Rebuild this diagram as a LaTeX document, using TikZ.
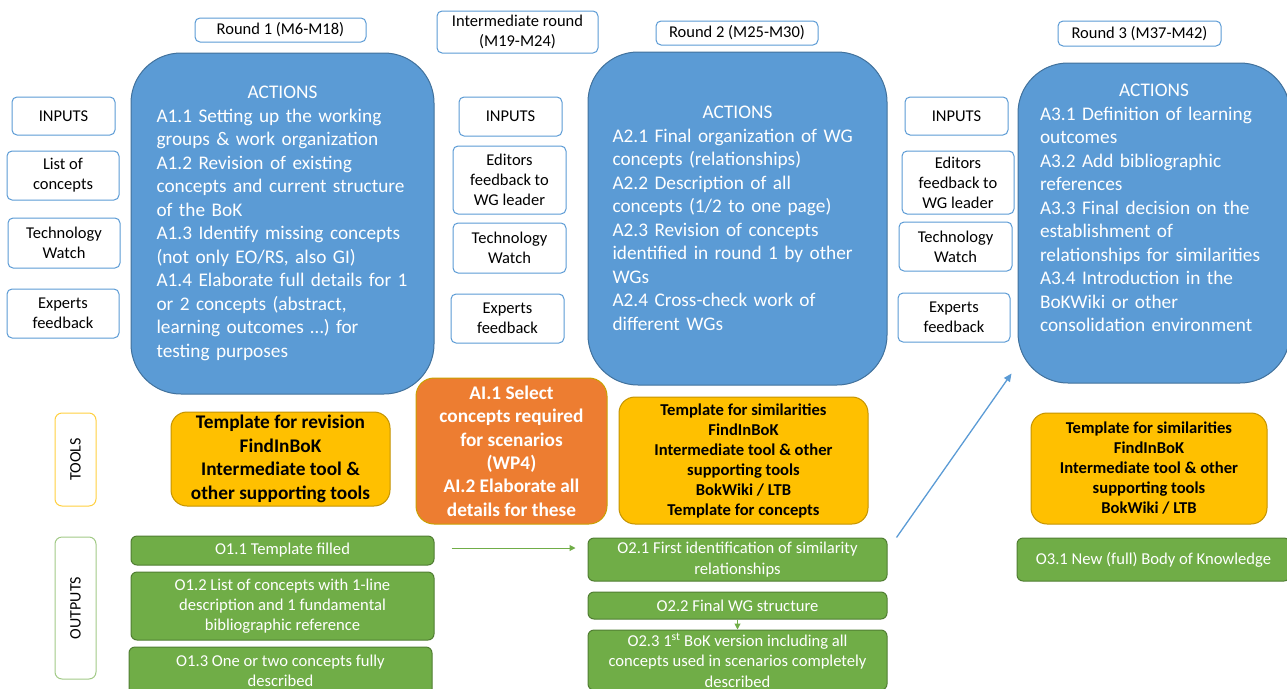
\documentclass[tikz,border=0pt]{standalone}
\usepackage{fontspec}
\setmainfont{Carlito}
\usetikzlibrary{arrows.meta}

\definecolor{actblue}{HTML}{5B9BD5}
\definecolor{actedge}{HTML}{41719C}
\definecolor{toolyellow}{HTML}{FFC000}
\definecolor{tooledge}{HTML}{C49300}
\definecolor{aiorange}{HTML}{ED7D31}
\definecolor{aiedge}{HTML}{C9A000}
\definecolor{outgreen}{HTML}{70AD47}
\definecolor{outedge}{HTML}{507E32}

\tikzset{
  frame/.style={draw=actblue, line width=1pt, fill=white, rounded corners=5pt,
    inner sep=0pt, align=center, font=\fontsize{16.5}{20}\selectfont},
  actions/.style={draw=actedge, line width=1pt, fill=actblue, text=white,
    rounded corners=50pt, inner ysep=0pt, align=left,
    font=\fontsize{19.3}{23.5}\selectfont},
  tools/.style={draw=tooledge, line width=1pt, fill=toolyellow, rounded corners=16pt,
    inner sep=0pt, align=center, font=\bfseries\fontsize{16.6}{20}\selectfont},
  outs/.style={draw=outedge, line width=1pt, fill=outgreen, text=white,
    rounded corners=6pt, inner sep=0pt, align=center,
    font=\fontsize{16.6}{20.3}\selectfont},
  side/.style={line width=1pt, rounded corners=7pt, fill=white, inner sep=0pt,
    rotate=90, font=\fontsize{16}{19}\selectfont},
  grarrow/.style={draw=outgreen, line width=1pt, -{Triangle[length=6pt,width=6pt]}},
  bluearrow/.style={draw=actblue, line width=1.3pt, -{Triangle[length=8pt,width=7pt]}}
}

\begin{document}
\begin{tikzpicture}[x=1pt,y=-1pt]
\useasboundingbox (0,0) rectangle (1287,688);

% round headers
\node [frame, minimum width=171pt, minimum height=24pt] (head1) at (280.5,30) {Round 1 (M6-M18)};
\node [frame, minimum width=161pt, minimum height=42pt] (headI) at (517.5,32) {Intermediate round\\(M19-M24)};
\node [frame, minimum width=162pt, minimum height=24pt] (head2) at (737,33) {Round 2 (M25-M30)};
\node [frame, minimum width=163pt, minimum height=25pt] (head3) at (1139.5,33.5) {Round 3 (M37-M42)};

% inputs, round 1
\node [frame, minimum width=103pt, minimum height=38pt] (in1) at (63.5,116) {INPUTS};
\node [frame, minimum width=112pt, minimum height=49pt] (list1) at (63,175.5) {List of\\concepts};
\node [frame, minimum width=112pt, minimum height=50pt] (tech1) at (64,243) {Technology\\Watch};
\node [frame, minimum width=112pt, minimum height=49pt] (exp1) at (63,313.5) {Experts\\feedback};

% inputs, intermediate round
\node [frame, minimum width=103pt, minimum height=39pt] (inI) at (510.5,116.5) {INPUTS};
\node [frame, minimum width=113pt, minimum height=68pt] (editI) at (509.5,180) {Editors\\feedback to\\WG leader};
\node [frame, minimum width=113pt, minimum height=50pt] (techI) at (509.5,248) {Technology\\Watch};
\node [frame, minimum width=113pt, minimum height=49pt] (expI) at (507.5,318.5) {Experts\\feedback};

% inputs, round 3
\node [frame, minimum width=103pt, minimum height=38pt] (in3) at (956.5,116) {INPUTS};
\node [frame, minimum width=112pt, minimum height=63pt] (edit3) at (958,182.5) {Editors\\feedback to\\WG leader};
\node [frame, minimum width=113pt, minimum height=49pt] (tech3) at (955.5,246.5) {Technology\\Watch};
\node [frame, minimum width=112pt, minimum height=49pt] (exp3) at (954,317.5) {Experts\\feedback};

% actions
\node [actions, text width=252pt, inner xsep=25.5pt, minimum height=341pt] (act1) at (282.5,223.5) {%
\makebox[\hsize]{ACTIONS}\\
A1.1 Setting up the working\\
groups \& work organization\\
A1.2 Revision of existing\\
concepts and current structure\\
of the BoK\\
A1.3 Identify missing concepts\\
(not only EO/RS, also GI)\\
A1.4 Elaborate full details for 1\\
or 2 concepts (abstract,\\
learning outcomes \dots) for\\
testing purposes};

\node [actions, text width=250pt, inner xsep=24.5pt, minimum height=333pt] (act2) at (737.5,218.5) {%
\makebox[\hsize]{ACTIONS}\\
A2.1 Final organization of WG\\
concepts (relationships)\\
A2.2 Description of all\\
concepts (1/2 to one page)\\
A2.3 Revision of concepts\\
identified in round 1 by other\\
WGs\\
A2.4 Cross-check work of\\
different WGs};

\node [actions, text width=228pt, inner xsep=22pt, minimum height=320pt] (act3) at (1154,223) {%
\makebox[\hsize]{ACTIONS}\\
A3.1 Definition of learning\\
outcomes\\
A3.2 Add bibliographic\\
references\\
A3.3 Final decision on the\\
establishment of\\
relationships for similarities\\
A3.4 Introduction in the\\
BoKWiki or other\\
consolidation environment\\[6.5pt]\mbox{}};

% row labels
\node [side, draw=toolyellow!75, minimum width=93pt, minimum height=41pt] (toolslab) at (75.5,459.5) {TOOLS};
\node [side, draw=outgreen!65, minimum width=142pt, minimum height=41pt] (outslab) at (75.5,608) {OUTPUTS};

% tools
\node [tools, font=\bfseries\fontsize{19.3}{23.5}\selectfont, minimum width=219pt, minimum height=94pt] (tool1) at (280.5,459) {Template for revision\\FindInBoK\\Intermediate tool \&\\other supporting tools};
\node [tools, draw=aiedge, fill=aiorange, text=white, rounded corners=18pt,
  font=\bfseries\fontsize{19.3}{23.4}\selectfont, minimum width=191pt, minimum height=146pt] (ai) at (511.5,451) {AI.1 Select\\concepts required\\for scenarios\\(WP4)\\AI.2 Elaborate all\\details for these};
\node [tools, minimum width=249pt, minimum height=127pt] (tool2) at (743.5,460.5) {Template for similarities\\FindInBoK\\Intermediate tool \& other\\supporting tools\\BokWiki / LTB\\Template for concepts};
\node [tools, minimum width=236pt, minimum height=111pt] (tool3) at (1149,468.5) {Template for similarities\\FindInBoK\\Intermediate tool \& other\\supporting tools\\BokWiki / LTB};

% outputs
\node [outs, minimum width=303pt, minimum height=29pt] (o11) at (282.5,550.5) {O1.1 Template filled};
\node [outs, minimum width=303pt, minimum height=68pt] (o12) at (282.5,606) {O1.2 List of concepts with 1-line\\description and 1 fundamental\\bibliographic reference};
\node [outs, minimum width=303pt, minimum height=48pt] (o13) at (280.5,671) {O1.3 One or two concepts fully\\described};
\node [outs, minimum width=299pt, minimum height=43pt] (o21) at (737.5,559.5) {O2.1 First identification of similarity\\relationships};
\node [outs, minimum width=299pt, minimum height=27pt] (o22) at (737.5,605.5) {O2.2 Final WG structure};
\node [outs, minimum width=299pt, minimum height=60pt] (o23) at (737.5,660) {O2.3 1\textsuperscript{st} BoK version including all\\concepts used in scenarios completely\\described};
\node [outs, minimum width=273pt, minimum height=43pt] (o31) at (1153.5,559.5) {O3.1 New (full) Body of Knowledge};

% connectors
\draw [grarrow] ([xshift=17pt,yshift=2.5pt]o11.east) -- ([xshift=-12pt,yshift=2.5pt]o11.east -| o21.west);
\draw [grarrow] (o22) -- (o23);
\draw [bluearrow] ([xshift=9pt]o21.north east) -- ([xshift=-6pt,yshift=10pt]act3.south west);

\end{tikzpicture}
\end{document}
